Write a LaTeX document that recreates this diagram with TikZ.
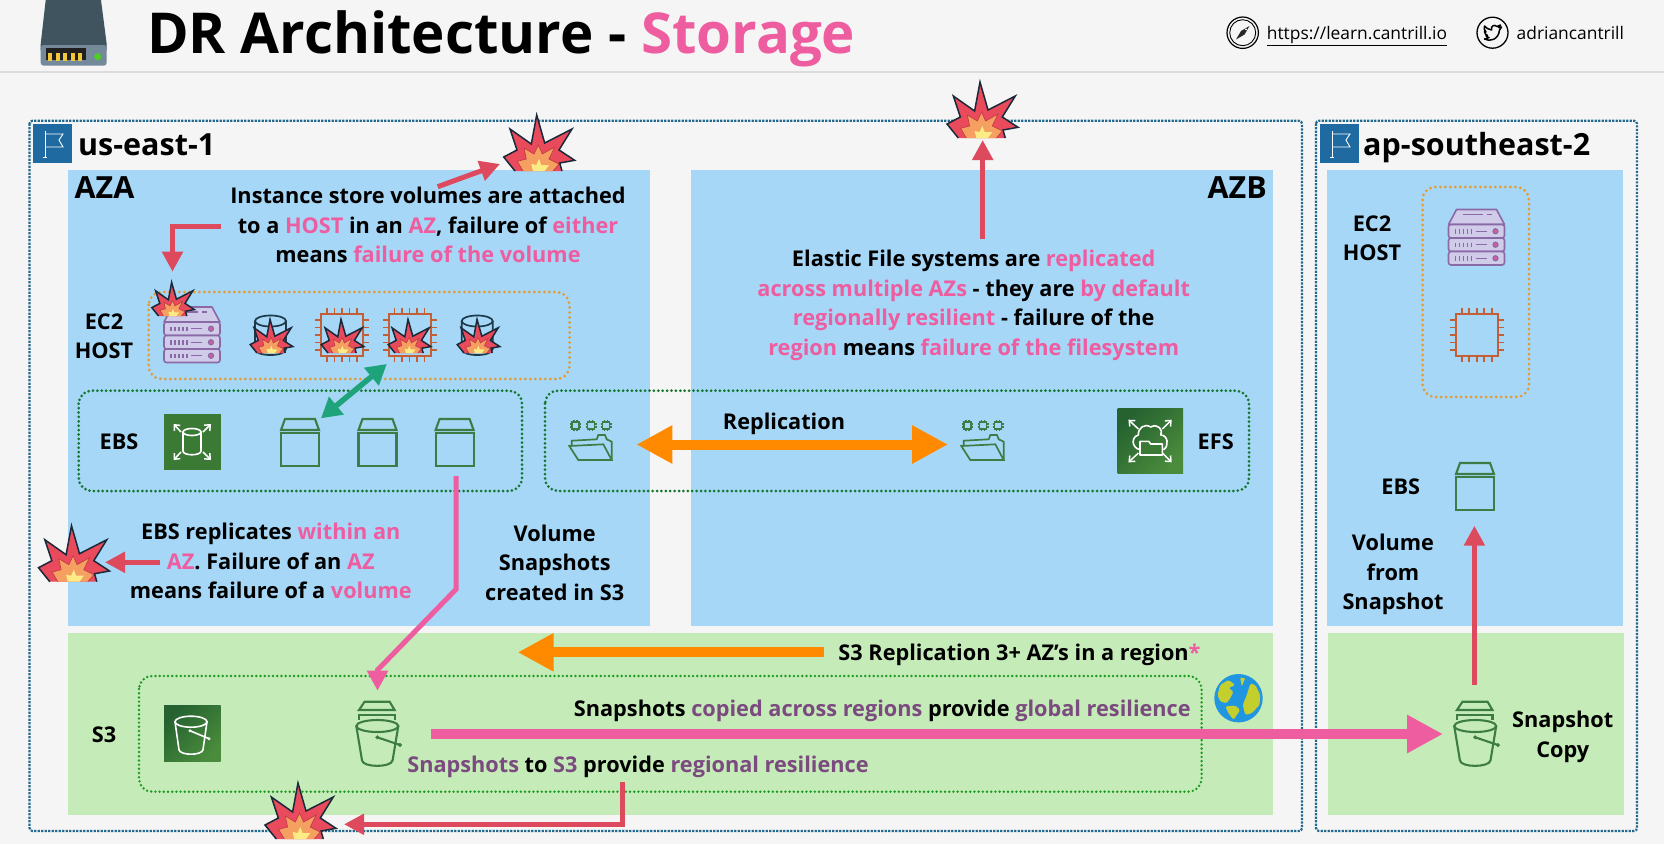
\documentclass[tikz,border=0pt]{standalone}
\usepackage{fontspec}
\setmainfont{Open Sans}
\usetikzlibrary{arrows.meta}
\definecolor{bgc}{HTML}{F5F5F5}
\definecolor{hdrline}{HTML}{DCDCDC}
\definecolor{azblue}{HTML}{A6D7F7}
\definecolor{s3green}{HTML}{C5EBB8}
\definecolor{regdot}{HTML}{23698F}
\definecolor{flagblue}{HTML}{1F6AA0}
\definecolor{orgdot}{HTML}{E8992B}
\definecolor{ebsdot}{HTML}{14762F}
\definecolor{s3dot}{HTML}{1C9A22}
\definecolor{pinkt}{HTML}{EE5DA0}
\definecolor{purt}{HTML}{7B4A7F}
\definecolor{redarr}{HTML}{DD4A5E}
\definecolor{orgarr}{HTML}{FF8A00}
\definecolor{teal}{HTML}{1FA37A}
\definecolor{icgreen}{HTML}{3D7D45}
\definecolor{awsflat}{HTML}{3B7A35}
\definecolor{awsdark}{HTML}{256230}
\definecolor{awslight}{HTML}{4A8C3C}
\definecolor{srvline}{HTML}{8A6AA6}
\definecolor{srvfill}{HTML}{CFCBE8}
\definecolor{cpuc}{HTML}{C25F36}
\definecolor{cylc}{HTML}{1D3A4A}
\definecolor{burstred}{HTML}{E94A5C}
\definecolor{burstorg}{HTML}{F5A060}
\definecolor{burstyel}{HTML}{FDEB85}
\definecolor{burstline}{HTML}{1A2A3A}
\definecolor{burstin}{HTML}{C23B45}
\definecolor{diskdark}{HTML}{3F545F}
\definecolor{diskmid}{HTML}{74899A}
\definecolor{diskgold}{HTML}{F0C63A}
\definecolor{diskgreen}{HTML}{4FCB2A}
\definecolor{globeblue}{HTML}{2196E0}
\definecolor{globeland}{HTML}{C4CF2E}
\newcommand{\pk}[1]{\textcolor{pinkt}{#1}}
\newcommand{\pu}[1]{\textcolor{purt}{#1}}
\newcommand{\blk}[1]{\rule{0pt}{16pt}#1\rule[-5pt]{0pt}{5pt}}
\tikzset{
  x=1pt,y=-1pt,
  lbl/.style={font=\fontsize{21.7}{29.5}\selectfont\bfseries,align=center,inner sep=0pt,text=black},
  bigl/.style={font=\fontsize{30.5}{36}\selectfont\bfseries,anchor=base west,inner sep=0pt,text=black},
  linkt/.style={font=\fontsize{17.4}{22}\selectfont,anchor=base west,inner sep=0pt,text=black},
  regbox/.style={draw=regdot,line width=2.2pt,dash pattern=on 2.2pt off 1.3pt,rounded corners=3pt},
  orgbox/.style={draw=orgdot,line width=3pt,line cap=round,dash pattern=on 0pt off 5pt,rounded corners=13pt},
  ebsbox/.style={draw=ebsdot,line width=3pt,line cap=round,dash pattern=on 0pt off 4.4pt,rounded corners=13pt},
  s3box/.style={draw=s3dot,line width=2.7pt,line cap=round,dash pattern=on 0pt off 4.2pt,rounded corners=13pt},
  redar/.style={draw=redarr,line width=5pt,-{Triangle[length=20pt,width=20pt]},line join=miter},
  pinkar/.style={draw=pinkt,line width=5pt,-{Triangle[length=20pt,width=20pt]},line join=miter},
  tealar/.style={draw=teal,line width=5.5pt,{Triangle[length=20pt,width=22pt]}-{Triangle[length=20pt,width=22pt]}},
  icon/.style={draw=icgreen,line width=2.1pt,line join=miter},
  awsw/.style={draw=white,line width=1.6pt},
  awsa/.style={draw=white,line width=1.5pt,-{Straight Barb[length=4.5pt,width=8pt]}},
  pics/burst/.style={code={
    \fill[burstred] (-24,0)--(-35.3,-14)--(-22,-21)--(-29,-42)--(-7.7,-27)--(-2.3,-56)--(5.7,-28)--(33,-42)--(20,-21)--(35.7,-10.7)--(20.7,-8)--(23,0)--cycle;
    \draw[burstline,line width=1.5pt,line join=miter] (-24,0)--(-35.3,-14)--(-22,-21)--(-29,-42)--(-7.7,-27)--(-2.3,-56)--(5.7,-28)--(33,-42)--(20,-21)--(35.7,-10.7)--(20.7,-8)--(23,0);
    \fill[burstorg] (-16,0)--(-21.7,-9.7)--(-12.7,-12)--(-15,-23)--(-5,-17)--(-.7,-26)--(3.3,-17)--(15.7,-24)--(10,-12)--(20,-7)--(14,0)--cycle;
    \draw[burstin,line width=.7pt,line join=miter] (-16,0)--(-21.7,-9.7)--(-12.7,-12)--(-15,-23)--(-5,-17)--(-.7,-26)--(3.3,-17)--(15.7,-24)--(10,-12)--(20,-7)--(14,0);
    \fill[burstyel] (-6,0)--(-7.7,-7)--(-2.7,-6)--(0,-12)--(2.3,-6)--(10,-6)--(5.7,0)--cycle;
  }},
  pics/serverico/.style={code={
    \filldraw[fill=srvfill,draw=srvline,line width=1.6pt,line join=round] (8,0)--(48,0)--(56,15)--(0,15)--cycle;
    \draw[srvline,line width=1.6pt] (14,5)--(34,5) (38,5)--(43,5);
    \foreach \ry in {15,28.5,42}{
      \filldraw[fill=srvfill,draw=srvline,line width=1.6pt,rounded corners=2.5pt] (0,\ry) rectangle (56,\ry+13.5);
      \foreach \rx in {7,11,15,19,23}{\draw[srvline,line width=1.1pt] (\rx,\ry+4.5)--(\rx,\ry+9);}
      \draw[srvline,line width=1.3pt] (27,\ry+6.75)--(38,\ry+6.75);
      \filldraw[fill=pinkt!60!srvline,draw=srvline,line width=1pt] (47,\ry+6.75) circle[radius=2.6];
    }
  }},
  pics/cylico/.style={code={
    \draw[cylc,line width=1.7pt] (0,6)--(0,34) .. controls (0,42) and (31,42) .. (31,34)--(31,6);
    \draw[cylc,line width=1.7pt] (15.5,6) ellipse[x radius=15.5,y radius=5.5];
  }},
  pics/cpuico/.style={code={
    \draw[cpuc,line width=2pt] (0,0) rectangle (42,42);
    \foreach \p in {6,13.5,21,28.5,36}{
      \draw[cpuc,line width=1.7pt] (\p,0)--(\p,-6) (\p,42)--(\p,48) (0,\p)--(-6,\p) (42,\p)--(48,\p);
    }
  }},
  pics/volico/.style={code={
    \draw[icon] (4,0)--(34,0)--(38,11)--(0,11)--cycle;
    \draw[icon] (0,14) rectangle (38,47);
  }},
  pics/bucketico/.style={code={
    \draw[icon] (3.4,9.3)--(9,1)--(34,1)--(39,9.3)--cycle;
    \draw[icon] (3.4,19)--(3.4,14.3)--(39,14.3)--(39,19);
    \draw[icon] (21.7,25.3) ellipse[x radius=21,y radius=6];
    \draw[icon] (.7,25.3)--(6.4,59.6) .. controls (7,67) and (36,67) .. (37,59.6)--(42.7,25.3);
    \draw[icon,line cap=round] (21.7,36.6)--(44.4,44.3);
    \filldraw[fill=icgreen,draw=icgreen] (21.7,36.6) circle[radius=1.8] (44.4,44.3) circle[radius=1.8];
  }},
  pics/chipico/.style={code={
    \draw[icon,line width=1.7pt] (2,2) rectangle (9,9);
    \draw[icon,line width=1.1pt] (4,0)--(4,2) (7,0)--(7,2) (4,9)--(4,11) (7,9)--(7,11) (0,4)--(2,4) (0,7)--(2,7) (9,4)--(11,4) (9,7)--(11,7);
  }},
  pics/folderbody/.style={code={
    \draw[icon,line width=1.7pt] (2.7,26)--(2.7,20.7)--(27.7,19.3)--(29.3,15)--(36,15)--(37.7,19.3)--(42.7,21.7)--(42.7,40);
    \draw[icon,line width=1.7pt] (0.3,26)--(34.3,24.3)--(42.7,40)--(9.3,40)--cycle;
  }},
}
\begin{document}
\begin{tikzpicture}
\useasboundingbox (0,0) rectangle (1664,844);
\fill[bgc] (0,0) rectangle (1664,844);
\draw[hdrline,line width=1.2pt] (0,72)--(1664,72);

% disk icon
\fill[diskdark] (45.7,0)--(101,0)--(106.7,44)--(106.7,50)--(40.7,50)--(40.7,44)--cycle;
\fill[diskmid,rounded corners=3pt] (40.7,45)--(106.7,45)--(106.7,65.7)--(40.7,65.7)--cycle;
\fill[black!88] (46,47.7) rectangle (86,60);
\foreach \gx in {50,57.5,65,72.7,80}{\fill[diskgold] (\gx-2,52.7) rectangle (\gx+2,60.7);}
\fill[diskgreen] (97.7,56.7) circle[radius=3.6];

% header text
\node[anchor=base west,inner sep=0pt,font=\fontsize{56.4}{60}\selectfont\bfseries] (title) at (147,53) {DR Architecture - \textcolor{pinkt}{Storage}};
\draw[black,line width=1.2pt] (1242.7,32.7) circle[radius=15.7];
\draw[black,line width=.9pt] (1242.7,32.7) circle[radius=13];
\fill[black!85] (1249.5,26)--(1244.5,34.5)--(1236,39.5)--(1241,31)--cycle;
\fill[white] (1246,29.4) circle[radius=1];
\node[linkt] (site) at (1266.7,39.3) {\underline{https://learn.cantrill.io}};
\draw[black,line width=1.3pt] (1492.5,32.7) circle[radius=15.5];
\begin{scope}[shift={(1492.5,33)}]
\draw[black,line width=1.5pt,line join=round] (-8,6) .. controls (-3,9) and (6,7) .. (7,-3) -- (9,-6) -- (6,-5.5) -- (8,-8) -- (4.5,-6.5) .. controls (2,-9) and (-2,-7) .. (-1,-3) .. controls (-4,-3.5) and (-6.5,-5) .. (-8,-7) .. controls (-9,-5) and (-8,-2) .. (-6.5,-1) -- (-8,-1.5) .. controls (-8,.5) and (-6.5,2) .. (-5,2.5) -- (-6.5,2.7) .. controls (-6,4) and (-4.5,4.5) .. (-3.5,4.5) .. controls (-5,5.5) and (-6.5,6) .. (-8,6) -- cycle;
\end{scope}
\node[linkt] (handle) at (1516.5,39.3) {adriancantrill};

% panels
\fill[azblue] (68,169.5) rectangle (649.5,626);
\fill[azblue] (691,169.5) rectangle (1273,626);
\fill[azblue] (1327,169.5) rectangle (1623,626);
\fill[s3green] (68,633) rectangle (1273,815);
\fill[s3green] (1328,633) rectangle (1624,815);
\draw[regbox] (29.5,120.7) rectangle (1302,831);
\draw[regbox] (1316,120.7) rectangle (1637,831);

% flags
\foreach \fx in {33,1320}{
  \fill[flagblue] (\fx,124) rectangle (\fx+39.4,163);
  \begin{scope}[shift={(\fx,124)}]
    \draw[white,line width=.9pt] (12,7)--(12,33) (10,33)--(14,33);
    \draw[white,line width=.9pt,line join=miter] (12,10)--(30,10)--(26,16)--(30,23)--(12,23);
  \end{scope}
}
\node[bigl] (r1) at (78,155) {us-east-1};
\node[bigl] (r2) at (1363,155) {ap-southeast-2};
\node[bigl] (aza) at (74.5,198) {AZA};
\node[bigl,anchor=base east] (azb) at (1267,198) {AZB};

% dotted groups
\draw[orgbox] (148.6,292) rectangle (569.5,379);
\draw[orgbox] (1422.5,187) rectangle (1529,397);
\draw[ebsbox] (78.7,390.7) rectangle (522,491);
\draw[ebsbox] (545,390.7) rectangle (1249,491);
\draw[s3box] (139,676) rectangle (1201.6,791.7);

% EC2 icons
\pic at (164,307) {serverico};
\pic at (1448.5,209.5) {serverico};
\pic at (255,315) {cylico};
\pic at (461.7,315) {cylico};
\pic at (321,314) {cpuico};
\pic at (388.5,314) {cpuico};
\pic at (1455.8,314) {cpuico};

% EBS
\fill[awsflat] (164,414) rectangle (220.5,470);
\begin{scope}[shift={(164,414)}]
  \draw[awsw] (19,18)--(19,37) .. controls (19,42) and (37,42) .. (37,37)--(37,18);
  \draw[awsw] (28,18) ellipse[x radius=9,y radius=3.5];
  \draw[awsa] (17,18)--(9.5,10);
  \draw[awsa] (39,18)--(47,10);
  \draw[awsa] (17,38)--(9.5,46);
  \draw[awsa] (39,38)--(47,46);
\end{scope}
\pic at (281,419) {volico};
\pic at (358.5,419) {volico};
\pic at (435.6,419) {volico};
\pic at (1456,463) {volico};

% EFS
\pic at (570,420) {chipico};
\pic at (585.5,420) {chipico};
\pic at (600.5,420) {chipico};
\pic at (569,420) {folderbody};
\pic at (962,420) {chipico};
\pic at (977.5,420) {chipico};
\pic at (992.5,420) {chipico};
\pic at (961,420) {folderbody};
\path[shade,left color=awsdark,right color=awslight,shading angle=45] (1117.7,408) rectangle (1183,473.7);
\begin{scope}[shift={(1117.7,408)}]
  \draw[awsa] (20.7,21)--(10.7,11.7);
  \draw[awsa] (44.7,21)--(54,11.7);
  \draw[awsa] (20.7,45)--(10.7,54.3);
  \draw[awsa] (44.7,45)--(54,54.3);
  \draw[awsw,line join=round] (22.3,41.7) .. controls (14,40) and (13,29) .. (20.7,27) .. controls (20,20) and (27,15) .. (33,19) .. controls (40,15) and (46,22) .. (43,27) .. controls (50,27) and (52,38) .. (45.7,41.7);
  \draw[awsw,line join=round,fill=awsflat] (22.3,47)--(22.3,33.3)--(31,33.3)--(33,36)--(44.7,36)--(44.7,47)--cycle;
\end{scope}

% S3
\path[shade,left color=awsdark,right color=awslight,shading angle=45] (164,705.7) rectangle (220.5,761.7);
\begin{scope}[shift={(164,705.7)}]
  \draw[awsw] (27,16) ellipse[x radius=16,y radius=5.5];
  \draw[awsw] (11,16)--(15,44) .. controls (16,50) and (38,50) .. (39,44)--(43,16);
  \draw[awsw] (26,25)--(45,33);
  \fill[white] (26,25) circle[radius=1.7] (45,33) circle[radius=1.7];
\end{scope}
\pic at (355.6,700.7) {bucketico};
\pic at (1453.5,700.7) {bucketico};

% globe
\fill[globeblue] (1238.5,698.2) circle[radius=24.2];
\begin{scope}[shift={(1238.5,698.2)}]
\fill[globeland,rounded corners=1.5pt] (12,-15)--(17,-13)--(21.7,-3.3)--(21,6.7)--(13.3,15)--(6.7,16.7)--(4.3,6.7)--(8.3,-3.3)--cycle;
\fill[globeland,rounded corners=1.5pt] (-21,-3.3)--(-18.3,-13.3)--(-10,-18.3)--(-3.3,-13.3)--(-10,-10)--(-5,-6.7)--(-8.3,0)--(-11.7,5)--(-18.3,3.3)--cycle;
\fill[globeland,rounded corners=1pt] (1.7,-20.7)--(6.7,-20)--(3.3,-11.7)--cycle;
\fill[globeland,rounded corners=1.5pt] (-13.3,8.3)--(-3.3,7.3)--(1.7,11.7)--(-5,21.7)--(-10,15)--cycle;
\end{scope}

% bursts
\pic at (539,171) {burst};
\pic at (982.3,138) {burst};
\pic at (73.8,581.7) {burst};
\pic at (300.3,839) {burst};
\pic[scale=.6] at (173,316) {burst};
\pic[scale=.6] at (271.4,353) {burst};
\pic[scale=.6] at (342.4,353) {burst};
\pic[scale=.6] at (409.4,353) {burst};
\pic[scale=.6] at (478.4,353) {burst};

% connector end points
\coordinate (a1) at (437.7,186.7); \coordinate (a2) at (500,164);
\coordinate (b1) at (221,226); \coordinate (b2) at (172.5,226); \coordinate (b3) at (172.5,271.7);
\coordinate (c1) at (982.7,238.7); \coordinate (c2) at (982.7,140);
\coordinate (d1) at (160.4,562.3); \coordinate (d2) at (105,562.3);
\coordinate (e1) at (622,782.3); \coordinate (e2) at (622,824.3); \coordinate (e3) at (344,824.3);
\coordinate (f1) at (1474.4,685); \coordinate (f2) at (1474.4,525.7);
\coordinate (g1) at (456,476); \coordinate (g2) at (456,589.3); \coordinate (g3) at (377.5,670); \coordinate (g4) at (377.5,690.7);
\coordinate (h1) at (431,734); \coordinate (h2) at (1443,734);
\coordinate (i1) at (636.4,444.5); \coordinate (i2) at (948,444.5);
\coordinate (j1) at (824,652.3); \coordinate (j2) at (517.7,652.3);
\coordinate (k1) at (386.8,364); \coordinate (k2) at (321,418.3);

\draw[redar] (a1)--(a2);
\draw[redar] (b1)--(b2)--(b3);
\draw[redar] (c1)--(c2);
\draw[redar] (d1)--(d2);
\draw[redar] (e1)--(e2)--(e3);
\draw[redar] (f1)--(f2);
\draw[pinkar] (g1)--(g2)--(g3)--(g4);
\draw[draw=pinkt,line width=10pt,-{Triangle[length=36pt,width=36pt]}] (h1)--(h2);
\draw[draw=orgarr,line width=10pt,{Triangle[length=36pt,width=36pt]}-{Triangle[length=36pt,width=36pt]}] (i1)--(i2);
\draw[draw=orgarr,line width=10pt,-{Triangle[length=36pt,width=36pt]}] (j1)--(j2);
\draw[tealar] (k1)--(k2);

% text
\node[lbl] (t1) at (428,227.5) {\blk{Instance store volumes are attached\\to a \pk{HOST} in an \pk{AZ}, failure of \pk{either}\\means \pk{failure of the volume}}};
\node[lbl] (t2) at (973.7,305.4) {\blk{Elastic File systems are \pk{replicated}\\\pk{across multiple AZs} - they are \pk{by default}\\\pk{regionally resilient} - failure of the\\\pk{region} means \pk{failure of the filesystem}}};
\node[lbl] (t3) at (270.8,563.3) {\blk{EBS replicates \pk{within an}\\\pk{AZ}. Failure of an \pk{AZ}\\means failure of a \pk{volume}}};
\node[lbl] (t4) at (554.7,565) {\blk{Volume\\Snapshots\\created in S3}};
\node[lbl] (t5) at (104,338.5) {\blk{EC2\\HOST}};
\node[lbl] (t6) at (1372,240.3) {\blk{EC2\\HOST}};
\node[lbl] (t7) at (119,443.5) {\blk{EBS}};
\node[lbl] (t8) at (784,423.8) {\blk{Replication}};
\node[lbl] (t9) at (1215.7,443.5) {\blk{EFS}};
\node[lbl] (t10) at (104,736.5) {\blk{S3}};
\node[lbl] (t11) at (1400.7,488.5) {\blk{EBS}};
\node[lbl] (t12) at (1393,574.7) {\blk{Volume\\from\\Snapshot}};
\node[lbl] (t13) at (1019.5,654.5) {\blk{S3 Replication 3+ AZ’s in a region\pk{*}}};
\node[lbl] (t14) at (882.3,711.2) {\blk{Snapshots \pu{copied across regions} provide \pu{global resilience}}};
\node[lbl] (t15) at (638,767.2) {\blk{\pu{Snapshots} to \pu{S3} provide \pu{regional resilience}}};
\node[lbl] (t16) at (1562.7,736.9) {\blk{Snapshot\\Copy}};
\end{tikzpicture}
\end{document}
